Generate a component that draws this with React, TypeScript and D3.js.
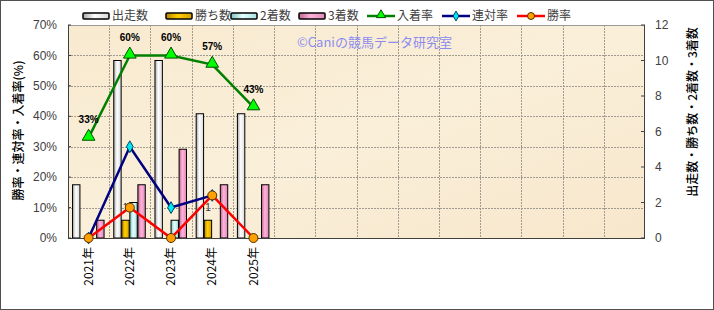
import React from "react";
import * as d3 from "d3";

const years = ["2021年", "2022年", "2023年", "2024年", "2025年"];
const totalSlots = 14;
const runs = [3, 10, 10, 7, 7];
const wins = [0, 1, 0, 1, 0];
const seconds = [0, 2, 1, 0, 0];
const thirds = [1, 3, 5, 3, 3];
const placeRate: (number | null)[] = [0.33, 0.6, 0.6, 0.57, 0.43];
const quinellaRate: (number | null)[] = [0, 0.3, 0.1, 0.14, null];
const winRate: (number | null)[] = [0, 0.1, 0, 0.14, 0];
const leftTicks = [0, 0.1, 0.2, 0.3, 0.4, 0.5, 0.6, 0.7];
const rightTicks = [0, 2, 4, 6, 8, 10, 12];
const barSeries = ["出走数", "勝ち数", "2着数", "3着数"];
const lineSeries = ["入着率", "連対率", "勝率"];

const W = 714;
const H = 310;
const PL = 68, PR = 645, PT = 25, PB = 238;

const FONT = "'Liberation Sans', 'Noto Sans CJK JP', sans-serif";
const JFONT = "'Noto Sans CJK JP', 'Liberation Sans', sans-serif";

const barGrad = [
  { id: "g0", c: ["#a8a8a8", "#ffffff", "#d8d8d8"] },
  { id: "g1", c: ["#b88000", "#ffd000", "#d8a000"] },
  { id: "g2", c: ["#80c0c0", "#e4ffff", "#a8e0e0"] },
  { id: "g3", c: ["#c06890", "#ffb4dc", "#e088b8"] },
];

export default function App() {
  const slots = d3.range(totalSlots).map((i) => String(i));
  const x = d3.scaleBand<string>().domain(slots).range([PL, PR]).padding(0);
  const bw = x.bandwidth();
  const inner = d3
    .scaleBand<string>()
    .domain(barSeries)
    .range([bw * 0.11, bw * 0.875])
    .paddingInner(0.08);
  const yL = d3.scaleLinear().domain([0, 0.7]).range([PB, PT]);
  const yR = d3.scaleLinear().domain([0, 12]).range([PB, PT]);
  const cx = (i: number) => (x(String(i)) as number) + bw / 2;

  const barData = [runs, wins, seconds, thirds];

  const mkLine = (vals: (number | null)[]) =>
    d3
      .line<number | null>()
      .defined((d) => d !== null)
      .x((_, i) => cx(i))
      .y((d) => yL(d as number))(vals) as string;

  const tri = d3.symbol().type(d3.symbolTriangle).size(70)() as string;
  const dia = d3.symbol().type(d3.symbolDiamond).size(40)() as string;

  const legendBars = [83, 166, 231, 299];
  const legendLines = [367, 442, 517];
  const LY = 16;

  return (
    <svg
      width={W}
      height={H}
      style={{ position: "absolute", left: 0, top: 0 }}
      xmlns="http://www.w3.org/2000/svg"
    >
      <defs>
        {barGrad.map((g) => (
          <linearGradient key={g.id} id={g.id} x1="0" x2="1" y1="0" y2="0">
            <stop offset="0%" stopColor={g.c[0]} />
            <stop offset="45%" stopColor={g.c[1]} />
            <stop offset="100%" stopColor={g.c[2]} />
          </linearGradient>
        ))}
        <linearGradient id="bg" x1="0" x2="1" y1="0" y2="1">
          <stop offset="0%" stopColor="#f8ead0" />
          <stop offset="50%" stopColor="#faefd9" />
          <stop offset="100%" stopColor="#f7e7cc" />
        </linearGradient>
      </defs>
      <rect x={0} y={0} width={W} height={H} fill="#ffffff" />
      <rect x={0.5} y={0.5} width={W - 1} height={H - 1} fill="none" stroke="#505050" />

      {/* plot background */}
      <rect x={PL} y={PT} width={PR - PL} height={PB - PT} fill="url(#bg)" />

      {/* grid */}
      {leftTicks.slice(1).map((t) => (
        <line
          key={"h" + t}
          x1={PL}
          x2={PR}
          y1={Math.round(yL(t)) + 0.5}
          y2={Math.round(yL(t)) + 0.5}
          stroke="#a09a90"
          strokeDasharray="2,1"
        />
      ))}
      {slots.slice(1).map((s) => (
        <line
          key={"v" + s}
          x1={Math.round(x(s) as number) + 0.5}
          x2={Math.round(x(s) as number) + 0.5}
          y1={PT}
          y2={PB}
          stroke="#a09a90"
          strokeDasharray="2,1"
        />
      ))}

      {/* watermark */}
      <text x={297} y={47} fontFamily={JFONT} fontSize={13} fill="#8c8cf0">
        ©Caniの競馬データ研究室
      </text>

      {/* bars */}
      {barData.map((vals, si) =>
        vals.map((v, i) =>
          v > 0 ? (
            <rect
              key={"b" + si + "-" + i}
              x={(x(String(i)) as number) + (inner(barSeries[si]) as number)}
              y={yR(v)}
              width={inner.bandwidth()}
              height={PB - yR(v)}
              fill={`url(#g${si})`}
              stroke="#000"
              strokeWidth={1}
            />
          ) : null
        )
      )}

      {/* win count labels */}
      {wins.map((v, i) =>
        v > 0 ? (
          <text
            key={"wl" + i}
            x={(x(String(i)) as number) + (inner("勝ち数") as number) + inner.bandwidth() / 2}
            y={yR(v) - 9}
            textAnchor="middle"
            fontFamily={FONT}
            fontSize={10}
            fill="#333"
          >
            {v}
          </text>
        ) : null
      )}

      {/* plot frame */}
      <line x1={PL} x2={PR} y1={PT + 0.5} y2={PT + 0.5} stroke="#9a9a9a" />
      <line x1={PL + 0.5} x2={PL + 0.5} y1={PT} y2={PB} stroke="#404040" />
      <line x1={PR - 0.5} x2={PR - 0.5} y1={PT} y2={PB} stroke="#404040" />
      <line x1={PL} x2={PR} y1={PB + 0.5} y2={PB + 0.5} stroke="#404040" />

      {/* left axis */}
      {leftTicks.map((t) => (
        <g key={"lt" + t}>
          <line x1={PL} x2={PL + 3} y1={yL(t)} y2={yL(t)} stroke="#404040" />
          <text
            x={57}
            y={yL(t)}
            dy="0.35em"
            textAnchor="end"
            fontFamily={FONT}
            fontSize={12}
            fill="#404040"
          >
            {Math.round(t * 100)}%
          </text>
        </g>
      ))}
      {/* right axis */}
      {rightTicks.map((t) => (
        <g key={"rt" + t}>
          <line x1={PR - 4} x2={PR} y1={yR(t)} y2={yR(t)} stroke="#404040" />
          <text
            x={655}
            y={yR(t)}
            dy="0.35em"
            textAnchor="start"
            fontFamily={FONT}
            fontSize={12}
            fill="#404040"
          >
            {t}
          </text>
        </g>
      ))}

      {/* x labels */}
      {years.map((yv, i) => (
        <text
          key={"xl" + i}
          transform={`translate(${cx(i)},${PB + 9}) rotate(-90)`}
          textAnchor="end"
          dy="0.35em"
          fontFamily={JFONT}
          fontSize={12}
          fill="#000"
        >
          {yv}
        </text>
      ))}

      {/* axis titles */}
      <text
        transform={`translate(19,${(PT + PB) / 2 - 1}) rotate(-90)`}
        textAnchor="middle"
        dy="0.35em"
        fontFamily={JFONT}
        fontSize={12}
        fontWeight={500}
        fill="#000"
      >
        勝率・連対率・入着率(%)
      </text>
      <text
        transform={`translate(693,${112}) rotate(-90)`}
        textAnchor="middle"
        dy="0.35em"
        fontFamily={JFONT}
        fontSize={12}
        fontWeight={500}
        fill="#000"
      >
        出走数・勝ち数・2着数・3着数
      </text>

      {/* lines */}
      <path d={mkLine(placeRate)} fill="none" stroke="#008000" strokeWidth={2.5} />
      <path d={mkLine(quinellaRate)} fill="none" stroke="#000080" strokeWidth={2.5} />
      <path d={mkLine(winRate)} fill="none" stroke="#ff0000" strokeWidth={2.5} />

      {placeRate.map((v, i) =>
        v !== null ? (
          <path
            key={"pm" + i}
            d={tri}
            transform={`translate(${cx(i)},${yL(v) - 1})`}
            fill="#00ff00"
            stroke="#005000"
            strokeWidth={1}
          />
        ) : null
      )}
      {quinellaRate.map((v, i) =>
        v !== null ? (
          <path
            key={"qm" + i}
            d={dia}
            transform={`translate(${cx(i)},${yL(v)})`}
            fill="#00e8f0"
            stroke="#004060"
            strokeWidth={1}
          />
        ) : null
      )}
      {winRate.map((v, i) =>
        v !== null ? (
          <circle
            key={"wm" + i}
            cx={cx(i)}
            cy={yL(v)}
            r={4.5}
            fill="#ffa000"
            stroke="#503000"
            strokeWidth={1}
          />
        ) : null
      )}

      {/* place rate labels */}
      {placeRate.map((v, i) =>
        v !== null ? (
          <text
            key={"pl" + i}
            x={cx(i)}
            y={yL(v) - 18}
            textAnchor="middle"
            dy="0.35em"
            fontFamily={FONT}
            fontSize={10}
            fontWeight="bold"
            fill="#000"
          >
            {Math.round(v * 100)}%
          </text>
        ) : null
      )}

      {/* legend */}
      {barSeries.map((s, i) => (
        <g key={"lb" + i}>
          <rect
            x={legendBars[i]}
            y={LY - 3}
            width={26}
            height={6}
            fill={`url(#g${i})`}
            stroke="#000"
            strokeWidth={1.5}
            rx={1}
          />
          <text
            x={legendBars[i] + 29}
            y={LY}
            dy="0.35em"
            fontFamily={JFONT}
            fontSize={12}
            fill="#404040"
          >
            {s}
          </text>
        </g>
      ))}
      {lineSeries.map((s, i) => {
        const col = ["#008000", "#000080", "#ff0000"][i];
        const lx = legendLines[i];
        return (
          <g key={"ll" + i}>
            <line x1={lx} x2={lx + 28} y1={LY} y2={LY} stroke={col} strokeWidth={2.5} />
            {i === 0 && (
              <path
                d={d3.symbol().type(d3.symbolTriangle).size(36)() as string}
                transform={`translate(${lx + 14},${LY - 1})`}
                fill="#00ff00"
                stroke="#005000"
              />
            )}
            {i === 1 && (
              <path
                d={d3.symbol().type(d3.symbolDiamond).size(28)() as string}
                transform={`translate(${lx + 14},${LY})`}
                fill="#00e8f0"
                stroke="#004060"
              />
            )}
            {i === 2 && (
              <circle cx={lx + 14} cy={LY} r={3.5} fill="#ffa000" stroke="#503000" />
            )}
            <text
              x={lx + 30}
              y={LY}
              dy="0.35em"
              fontFamily={JFONT}
              fontSize={12}
              fill="#404040"
            >
              {s}
            </text>
          </g>
        );
      })}
    </svg>
  );
}
